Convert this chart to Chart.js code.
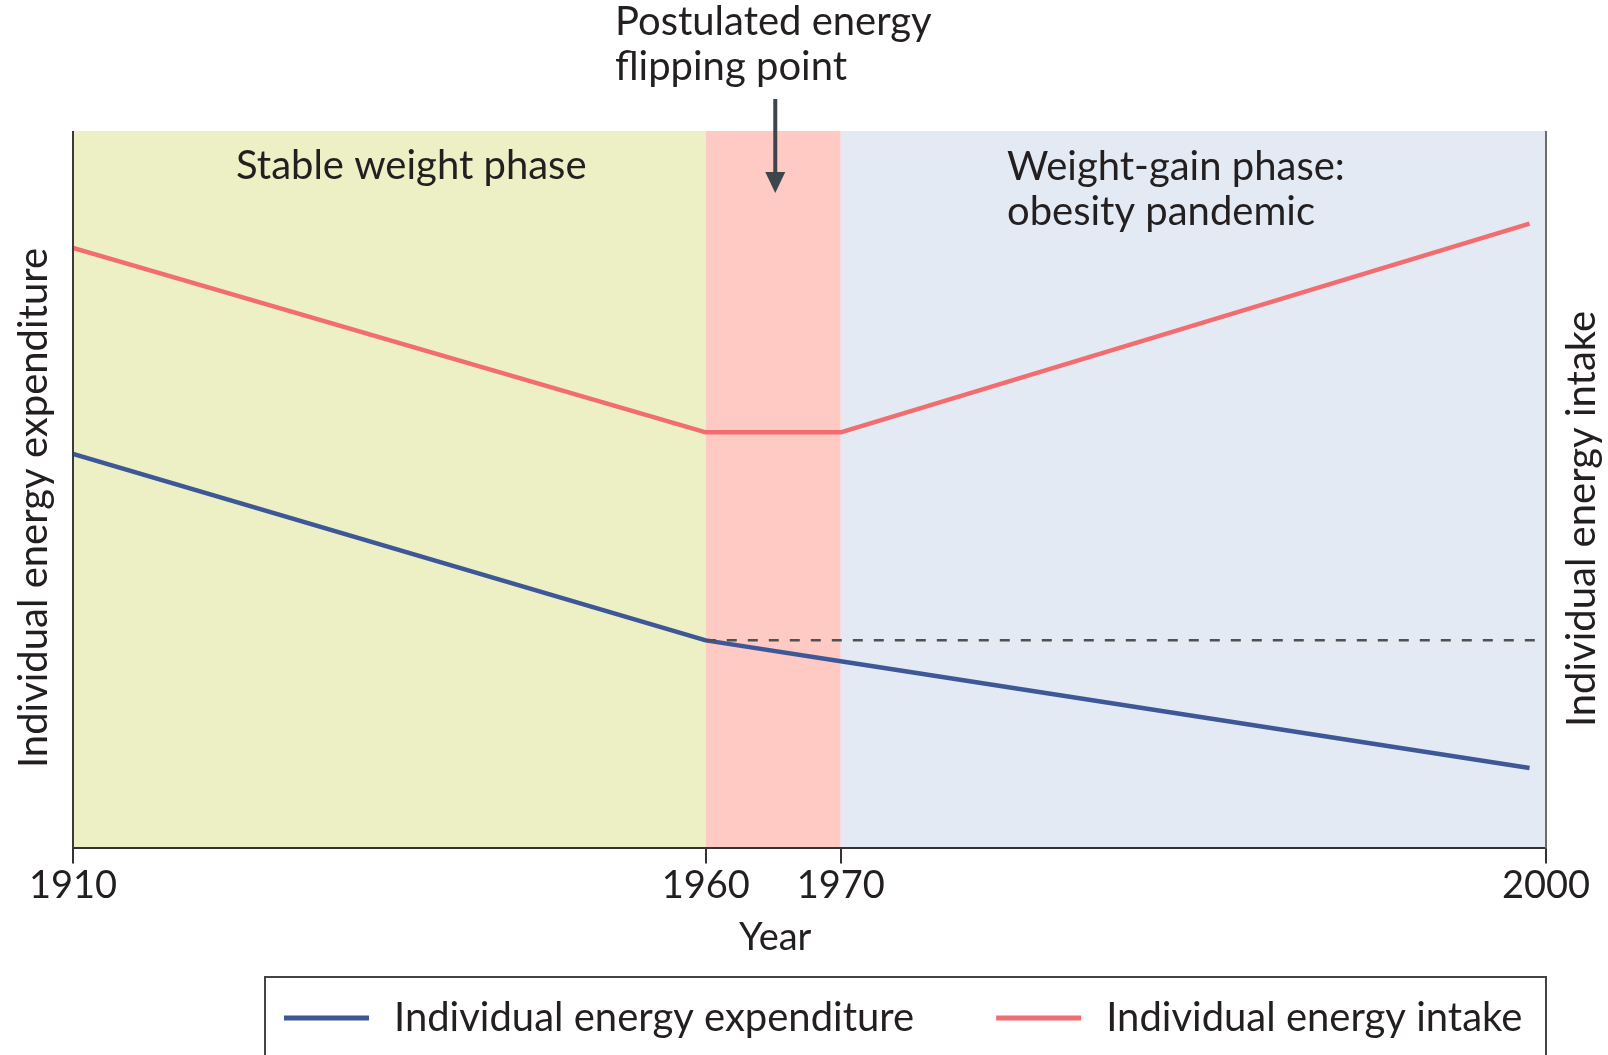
<!DOCTYPE html>
<html lang="en">
<head>
<meta charset="UTF-8">
<title>Energy flipping point</title>
<script src="https://cdn.jsdelivr.net/npm/chart.js"></script>
<style>
  html, body { margin: 0; padding: 0; background: #fff; }
  canvas { display: block; }
</style>
</head>
<body>
<canvas id="energyChart" width="1608" height="1055"></canvas>
<script>
// values (y is a relative 0-100 scale)
const years = [1910, 1960, 1970, 1999.3];
const expenditure = [55.0, 29.0, 26.1, 11.2];
const intake = [83.7, 58.0, 58.0, 87.1];
const tickYears = [1910, 1960, 1970, 2000];
const referenceYears = [1960, 1999.6];
const referenceLevel = [29.0, 29.0];
const phaseStarts = [1910, 1960, 1970];
const phaseEnds = [1960, 1970, 2000];

const phaseColors = ['#edefc5', '#ffcac4', '#e3eaf4'];
const FONT = 'Lato';
const TEXT = '#231f20';

// the figure's year axis is schematic, not linear: piecewise mapping
const warpYears = [1910, 1960, 1970, 2000];
const warpStops = [0, 0.4296, 0.5212, 1];

function interp(v, from, to) {
    for (let i = 0; i < from.length - 1; i++) {
        if (v <= from[i + 1] || i === from.length - 2) {
            const t = (v - from[i]) / (from[i + 1] - from[i]);
            return to[i] + t * (to[i + 1] - to[i]);
        }
    }
}

class WarpScale extends Chart.LinearScale {
    getPixelForValue(value) {
        if (value === null || value === undefined) return NaN;
        return this.getPixelForDecimal(interp(value, warpYears, warpStops));
    }
    getValueForPixel(pixel) {
        return interp(this.getDecimalForPixel(pixel), warpStops, warpYears);
    }
}
WarpScale.id = 'warp';
WarpScale.defaults = Chart.LinearScale.defaults;
Chart.register(WarpScale);

const toPoints = (xs, ys) => xs.map((x, i) => ({x: x, y: ys[i]}));

function text(ctx, str, x, y, size, align) {
    ctx.font = size + 'px ' + FONT;
    ctx.textAlign = align || 'left';
    ctx.textBaseline = 'middle';
    ctx.fillText(str, x, y);
}

const annotations = {
    id: 'annotations',
    beforeDraw(chart) {
        const {ctx, chartArea: a, scales: {x}} = chart;
        ctx.save();
        phaseStarts.forEach((start, i) => {
            const x0 = x.getPixelForValue(start);
            const x1 = x.getPixelForValue(phaseEnds[i]);
            ctx.fillStyle = phaseColors[i];
            ctx.fillRect(x0, a.top, x1 - x0, a.bottom - a.top);
        });
        ctx.restore();
    },
    afterDraw(chart) {
        const {ctx, chartArea: a, scales: {x}} = chart;
        ctx.save();

        // side frame lines
        ctx.lineWidth = 2;
        ctx.strokeStyle = '#3a3a3a';
        ctx.beginPath(); ctx.moveTo(a.left, a.top); ctx.lineTo(a.left, a.bottom); ctx.stroke();
        ctx.strokeStyle = '#6b6b6b';
        ctx.beginPath(); ctx.moveTo(a.right, a.top); ctx.lineTo(a.right, a.bottom); ctx.stroke();

        ctx.fillStyle = TEXT;
        text(ctx, 'Postulated energy', 615, 22, 40);
        text(ctx, 'flipping point', 615, 67, 40);
        text(ctx, 'Stable weight phase', 236, 166, 40);
        text(ctx, 'Weight-gain phase:', 1007, 167, 40);
        text(ctx, 'obesity pandemic', 1007, 212, 40);

        const mid = (x.getPixelForValue(1960) + x.getPixelForValue(1970)) / 2;
        text(ctx, 'Year', mid + 2, 938, 38, 'center');

        // arrow to the flipping point
        const ax = mid + 2;
        ctx.strokeStyle = '#3d474b';
        ctx.fillStyle = '#3d474b';
        ctx.lineWidth = 4;
        ctx.beginPath(); ctx.moveTo(ax, 99); ctx.lineTo(ax, 176); ctx.stroke();
        ctx.beginPath();
        ctx.moveTo(ax - 10, 172); ctx.lineTo(ax + 10, 172); ctx.lineTo(ax, 193);
        ctx.closePath(); ctx.fill();

        // axis titles
        ctx.fillStyle = TEXT;
        ctx.save();
        ctx.translate(34, 508); ctx.rotate(-Math.PI / 2);
        text(ctx, 'Individual energy expenditure', 0, 0, 40, 'center');
        ctx.restore();
        ctx.save();
        ctx.translate(1582, 519); ctx.rotate(-Math.PI / 2);
        text(ctx, 'Individual energy intake', 0, 0, 40, 'center');
        ctx.restore();

        // boxed legend
        const top = 977;
        ctx.strokeStyle = '#444';
        ctx.lineWidth = 2;
        ctx.strokeRect(265, top, a.right - 265, 120);
        let cx = 284;
        const cy = 1018;
        chart.data.datasets.filter(d => d.label).forEach(d => {
            ctx.strokeStyle = d.borderColor;
            ctx.lineWidth = 5;
            ctx.beginPath(); ctx.moveTo(cx, cy); ctx.lineTo(cx + 85, cy); ctx.stroke();
            cx += 85 + 25;
            ctx.fillStyle = TEXT;
            text(ctx, d.label, cx, cy, 40);
            cx += ctx.measureText(d.label).width + 82;
        });
        ctx.restore();
    }
};

new Chart(document.getElementById('energyChart'), {
    type: 'line',
    data: {
        datasets: [
            {
                label: '',
                data: toPoints(referenceYears, referenceLevel),
                borderColor: '#505050',
                borderWidth: 2.5,
                borderDash: [10, 11],
                pointRadius: 0,
                order: 0
            },
            {
                label: 'Individual energy expenditure',
                data: toPoints(years, expenditure),
                borderColor: '#3e5897',
                borderWidth: 4.5,
                pointRadius: 0,
                order: 1
            },
            {
                label: 'Individual energy intake',
                data: toPoints(years, intake),
                borderColor: '#f26d70',
                borderWidth: 4.5,
                pointRadius: 0,
                order: 1
            }
        ]
    },
    options: {
        responsive: false,
        animation: false,
        layout: { padding: { left: 73, right: 62, top: 131, bottom: 146 } },
        plugins: { legend: { display: false }, tooltip: { enabled: false } },
        elements: { line: { tension: 0, borderJoinStyle: 'round' } },
        scales: {
            x: {
                type: 'warp',
                min: 1910,
                max: 2000,
                afterBuildTicks: s => { s.ticks = tickYears.map(v => ({value: v})); },
                ticks: {
                    callback: v => String(v),
                    color: TEXT,
                    padding: 0,
                    maxRotation: 0,
                    autoSkip: false,
                    font: { family: FONT, size: 38 }
                },
                grid: { drawOnChartArea: false, tickLength: 15, color: '#333', lineWidth: 2 },
                border: { color: '#333', width: 2 }
            },
            y: { display: false, min: 0, max: 100 }
        }
    },
    plugins: [annotations]
});
</script>
</body>
</html>
